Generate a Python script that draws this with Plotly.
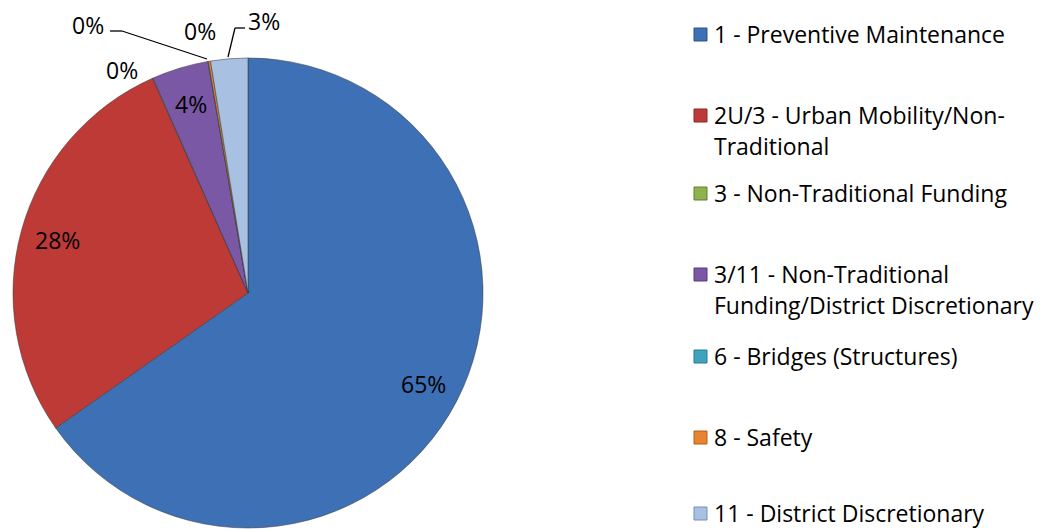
import math
import plotly.graph_objects as go

# ---- data ----
categories = [
    "1 - Preventive Maintenance",
    "2U/3 - Urban Mobility/Non-<br>Traditional",
    "3 - Non-Traditional Funding",
    "3/11 - Non-Traditional<br>Funding/District Discretionary",
    "6 - Bridges (Structures)",
    "8 - Safety",
    "11 - District Discretionary",
]
values = [65.3, 28.1, 0.03, 3.9, 0.03, 0.15, 2.55]
colors = ["#3D70B5", "#BE3A36", "#8FB24E", "#7B58A6", "#3FA3BE", "#E8832F", "#A8C0E2"]
border_colors = ["#2B538A", "#8E2724", "#5F7E2E", "#553A7A", "#2A7A90", "#B25E1A", "#7390BC"]

W, H = 1044, 529
CX, CY, R = 248, 293, 235
FONT = "Open Sans, Lato, sans-serif"
FS = 23


def px(x):
    return x / W


def py(y):
    return 1 - y / H


fig = go.Figure()
fig.add_trace(go.Pie(
    labels=[c.replace("<br>", " ") for c in categories],
    values=values,
    sort=False,
    direction="clockwise",
    rotation=0,
    textinfo="none",
    hoverinfo="label+percent",
    marker=dict(colors=colors, line=dict(color="rgba(60,60,60,0.55)", width=1)),
    domain=dict(x=[px(CX - R), px(CX + R)], y=[py(CY + R), py(CY - R)]),
    showlegend=False,
))

total = sum(values)
annotations = []
shapes = []

# outside label placements (pixel) and leader lines for tiny slices
outside = {
    2: dict(pos=(122, 70), leader=None),
    4: dict(pos=(88, 25), leader=[(110, 31), (122, 31), (207, 59)]),
    5: dict(pos=(200, 31), leader=None),
    6: dict(pos=(264, 21), leader=[(245, 28), (235, 28), (228, 57)]),
}

cum = 0.0
for i, v in enumerate(values):
    frac = v / total
    mid = (cum + frac / 2) * 2 * math.pi
    cum += frac
    text = f"{round(frac * 100)}%"
    if i in outside:
        x, y = outside[i]["pos"]
        ld = outside[i]["leader"]
        if ld:
            for (x0, y0), (x1, y1) in zip(ld[:-1], ld[1:]):
                shapes.append(dict(type="line", xref="paper", yref="paper",
                                   x0=px(x0), y0=py(y0), x1=px(x1), y1=py(y1),
                                   line=dict(color="black", width=1.3)))
    else:
        r = 0.84 * R
        x = CX + r * math.sin(mid)
        y = CY - r * math.cos(mid)
    annotations.append(dict(x=px(x), y=py(y), xref="paper", yref="paper",
                            text=text, showarrow=False,
                            xanchor="center", yanchor="middle",
                            font=dict(family=FONT, size=FS, color="black")))

# legend (manual, to match the spacing of the original)
legend_first_line_y = [34, 115, 193, 274, 356, 437, 513]
LINE_H = 31
for i, (cat, ly) in enumerate(zip(categories, legend_first_line_y)):
    shapes.append(dict(type="rect", xref="paper", yref="paper",
                       x0=px(694), x1=px(707), y0=py(ly - 6), y1=py(ly + 7),
                       fillcolor=colors[i], line=dict(color=border_colors[i], width=1)))
    for k, line in enumerate(cat.split("<br>")):
        annotations.append(dict(x=px(712), y=py(ly + k * LINE_H), xref="paper", yref="paper",
                                text=line, showarrow=False,
                                xanchor="left", yanchor="middle",
                                font=dict(family=FONT, size=FS, color="black")))

fig.update_layout(
    width=W, height=H,
    margin=dict(l=0, r=0, t=0, b=0),
    paper_bgcolor="white",
    plot_bgcolor="white",
    annotations=annotations,
    shapes=shapes,
    showlegend=False,
)

fig.write_html("out.html",
               config={"displayModeBar": False},
               post_script="document.body.style.margin='0';document.body.style.overflow='hidden';")
